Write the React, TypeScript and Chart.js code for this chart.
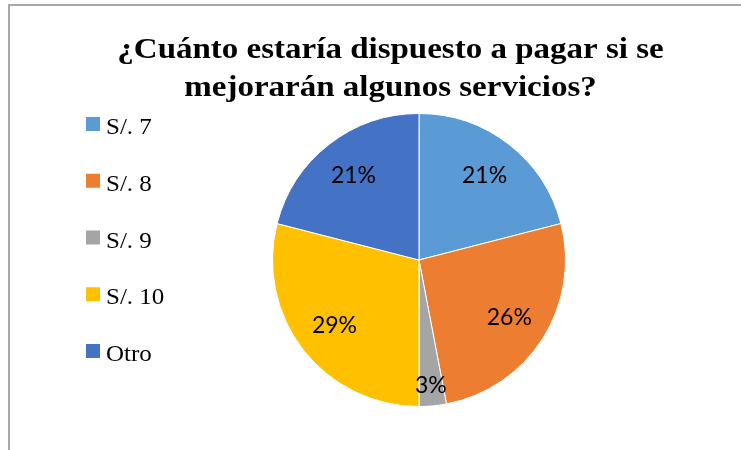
import React, { useEffect, useRef } from "react";
import { Chart, registerables } from "chart.js";

Chart.register(...registerables);

const TITLE_LINES = ["¿Cuánto estaría dispuesto a pagar si se", "mejorarán algunos servicios?"];
const CATEGORIES = ["S/. 7", "S/. 8", "S/. 9", "S/. 10", "Otro"];
const PERCENTAGES = [21, 26, 3, 29, 21];
const COLORS = ["#5B9BD5", "#ED7D31", "#A5A5A5", "#FFC000", "#4472C4"];

function drawScaledText(
  ctx: CanvasRenderingContext2D,
  text: string,
  x: number,
  baseline: number,
  sy: number
) {
  ctx.save();
  ctx.translate(x, baseline);
  ctx.scale(1, sy);
  ctx.fillText(text, 0, 0);
  ctx.restore();
}

const overlayPlugin = {
  id: "overlay",
  afterDatasetsDraw(chart: any) {
    const ctx = chart.ctx as CanvasRenderingContext2D;
    const meta = chart.getDatasetMeta(0);
    const values = chart.data.datasets[0].data as number[];
    const total = values.reduce((a, b) => a + b, 0);
    ctx.save();
    ctx.font = "23px Lato";
    ctx.fillStyle = "#000000";
    ctx.textAlign = "center";
    ctx.textBaseline = "middle";
    meta.data.forEach((arc: any, i: number) => {
      const p = arc.getProps(["x", "y", "startAngle", "endAngle", "outerRadius"], true);
      const mid = (p.startAngle + p.endAngle) / 2;
      const pct = Math.round((values[i] / total) * 100);
      const frac = pct < 5 ? 0.86 : 0.73;
      ctx.fillText(
        `${pct}%`,
        p.x + Math.cos(mid) * p.outerRadius * frac,
        p.y + Math.sin(mid) * p.outerRadius * frac
      );
    });
    ctx.restore();
  },
  afterDraw(chart: any) {
    const ctx = chart.ctx as CanvasRenderingContext2D;
    ctx.save();
    // Title
    ctx.font = "bold 33px 'Liberation Serif'";
    ctx.fillStyle = "#000000";
    ctx.textAlign = "center";
    ctx.textBaseline = "alphabetic";
    TITLE_LINES.forEach((line, i) => {
      drawScaledText(ctx, line, 390.5, 57.5 + i * 38, 0.88);
    });
    // Legend
    const labels = chart.data.labels as string[];
    const colors = chart.data.datasets[0].backgroundColor as string[];
    ctx.font = "25px 'Liberation Serif'";
    ctx.textAlign = "left";
    labels.forEach((label, i) => {
      const top = 117 + i * 56.75;
      ctx.fillStyle = colors[i];
      ctx.fillRect(86, top, 14, 14);
      ctx.fillStyle = "#000000";
      drawScaledText(ctx, label, 106, top + 17, 0.93);
    });
    ctx.restore();
  },
};

export default function App() {
  const canvasRef = useRef<HTMLCanvasElement | null>(null);

  useEffect(() => {
    if (!canvasRef.current) return;
    const chart = new Chart(canvasRef.current, {
      type: "pie",
      data: {
        labels: CATEGORIES,
        datasets: [
          {
            data: PERCENTAGES,
            backgroundColor: COLORS,
            borderColor: "#ffffff",
            borderWidth: 1,
          },
        ],
      },
      options: {
        responsive: false,
        animation: false,
        devicePixelRatio: 1,
        layout: { padding: { left: 272, right: 175, top: 113, bottom: 43 } },
        plugins: {
          legend: { display: false },
          title: { display: false },
          tooltip: { enabled: false },
        },
      },
      plugins: [overlayPlugin],
    });
    return () => chart.destroy();
  }, []);

  return (
    <div
      style={{
        position: "fixed",
        left: 0,
        top: 0,
        width: 741,
        height: 450,
        background: "#ffffff",
        overflow: "hidden",
      }}
    >
      <div
        style={{
          position: "absolute",
          left: 8,
          top: 4,
          width: 760,
          height: 470,
          borderLeft: "2px solid #A8A8A8",
          borderTop: "2px solid #A8A8A8",
        }}
      />
      <canvas
        ref={canvasRef}
        width={741}
        height={450}
        style={{ position: "absolute", left: 0, top: 0, width: 741, height: 450 }}
      />
    </div>
  );
}
